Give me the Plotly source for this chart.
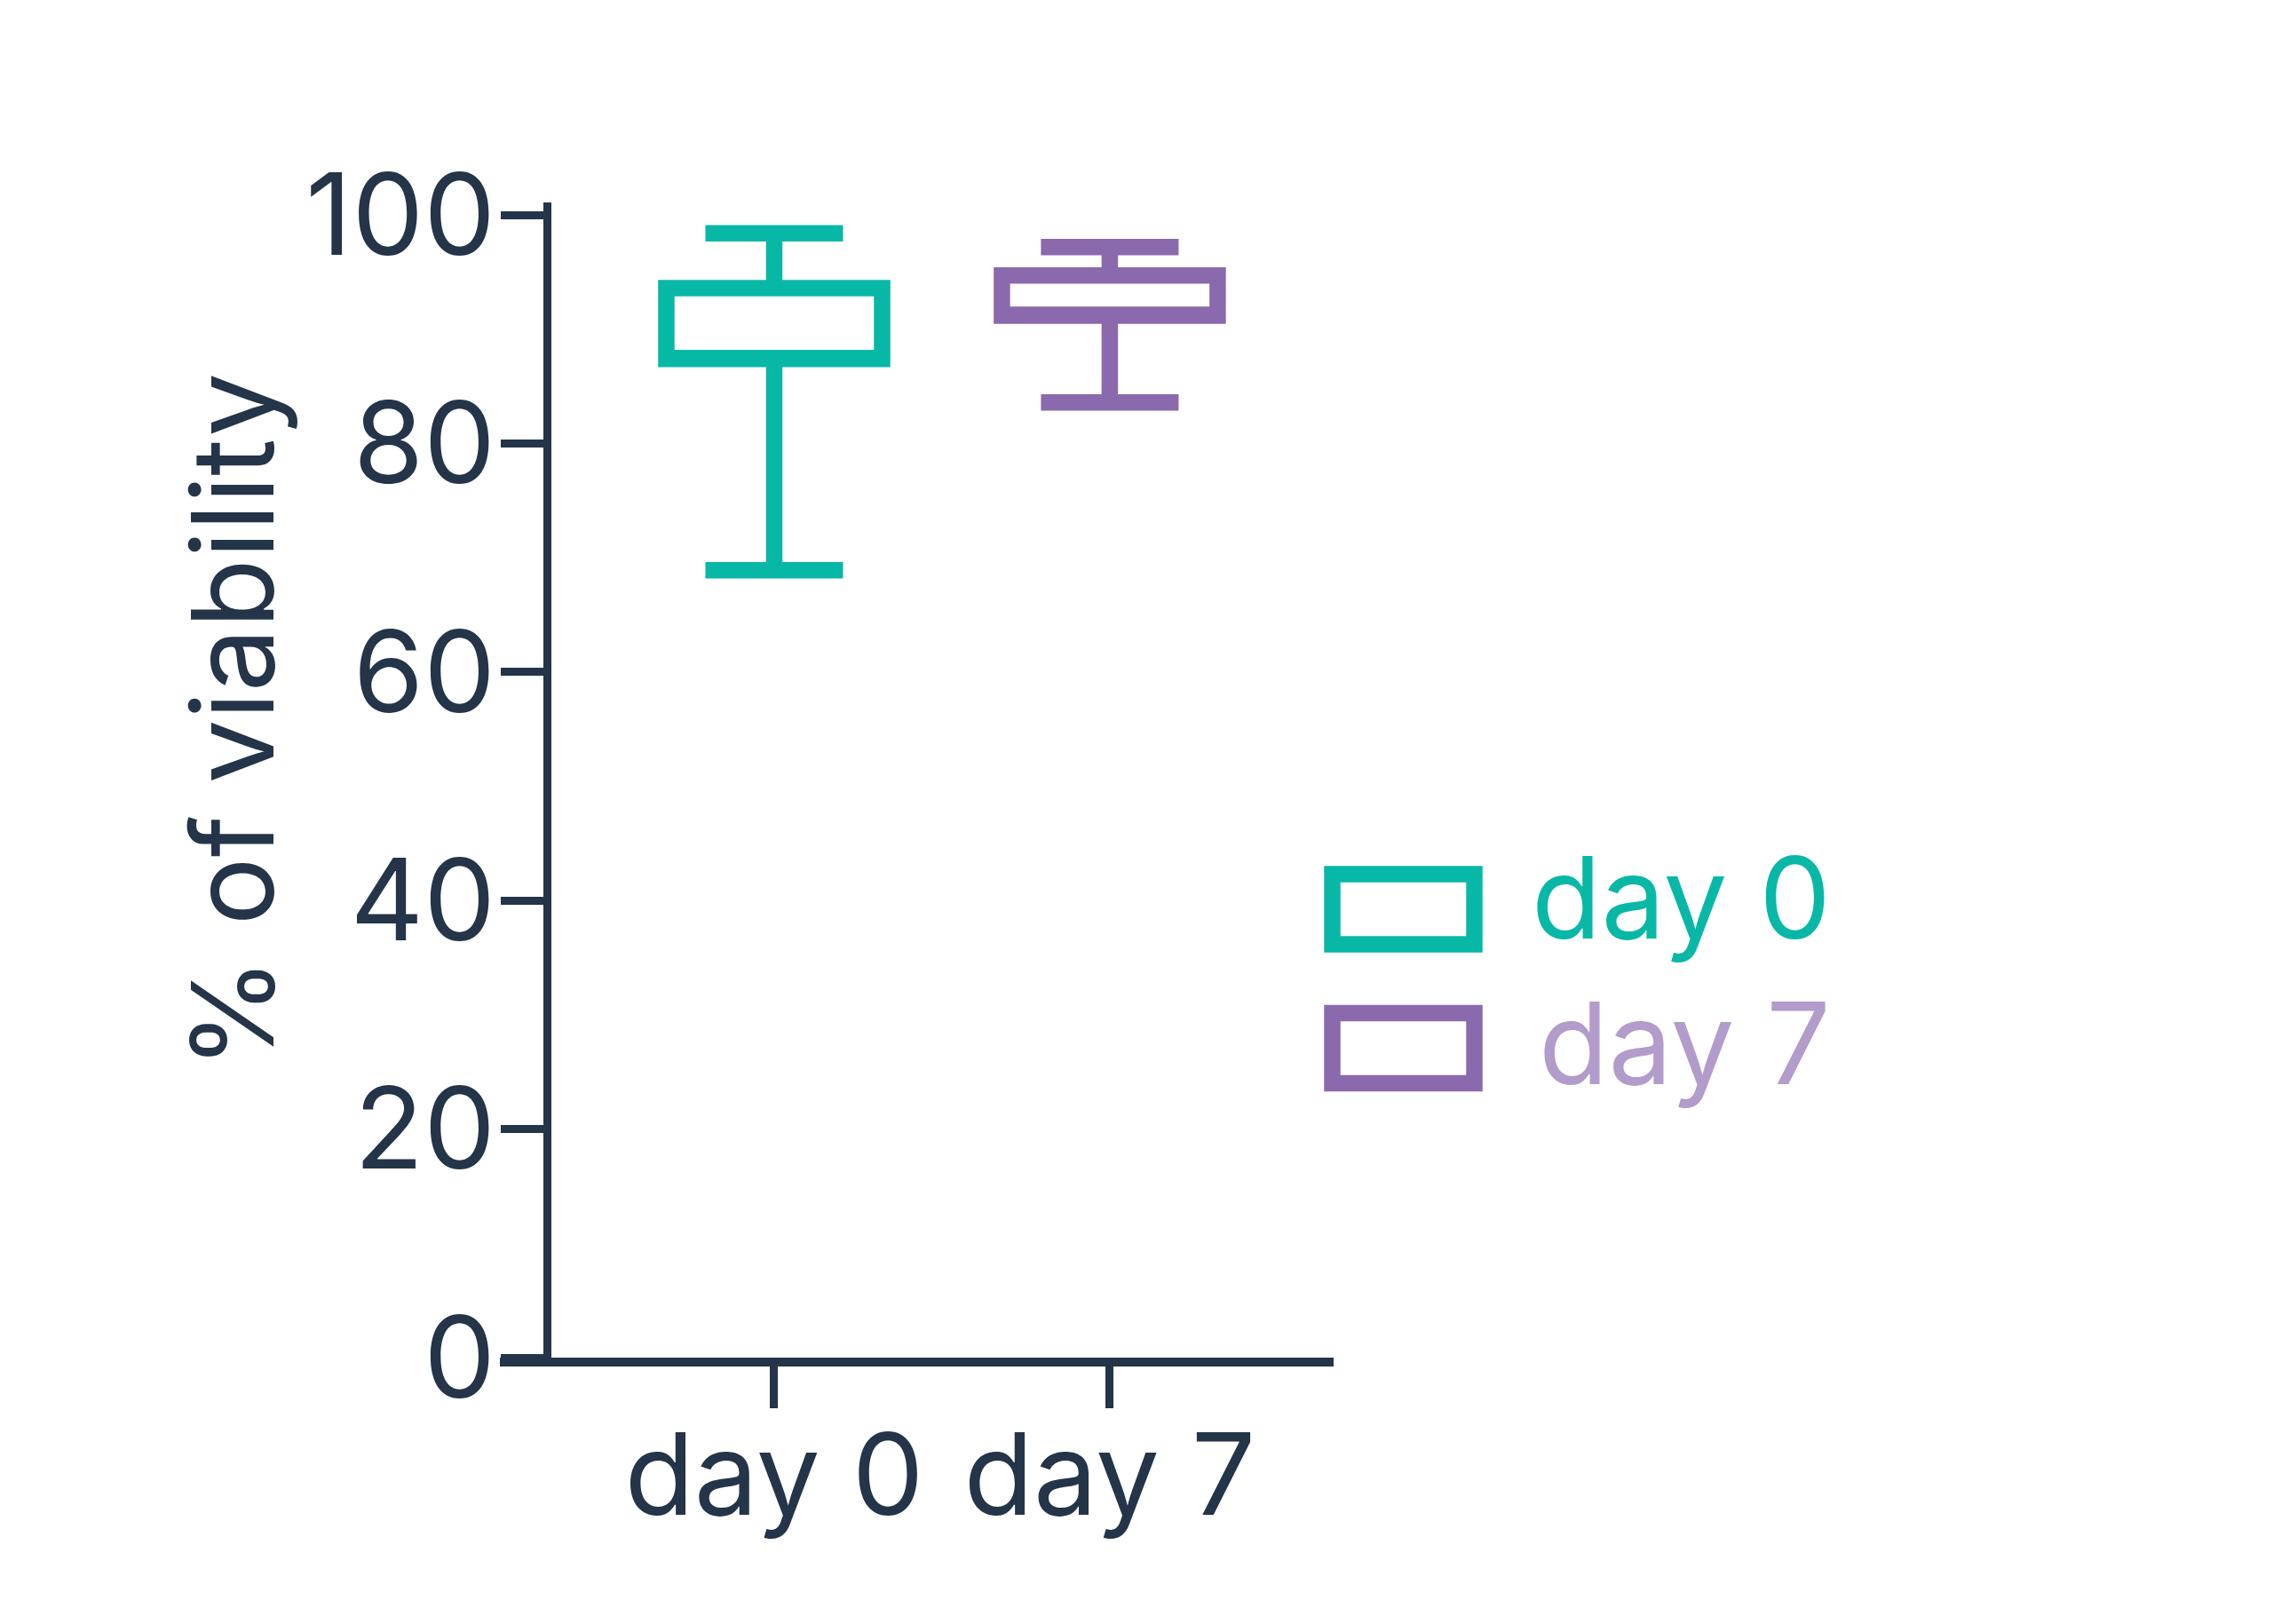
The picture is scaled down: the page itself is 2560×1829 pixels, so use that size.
import plotly.graph_objects as go

# ---- data ----
categories = ["day 0", "day 7"]
series_names = ["day 0", "day 7"]
lower_whisker = [68.9, 83.6]
q1_values = [87.4, 91.2]
median_values = [87.4, 91.2]
q3_values = [93.6, 94.7]
upper_whisker = [98.4, 97.2]
y_tick_values = [0, 20, 40, 60, 80, 100]
y_tick_labels = ["0", "20", "40", "60", "80", "100"]

box_colors = ["#08B8A7", "#8B69AD"]
legend_text_colors = ["#08B8A7", "#B29CCB"]
axis_color = "#243449"
FONT = "Inter"

W, H = 2560, 1829
OFF = 8  # page body margin


def px(x):
    return (x - OFF) / W


def py(y):
    return 1 - (y - OFF) / H


fig = go.Figure()
for i, cat in enumerate(categories):
    fig.add_trace(go.Box(
        x=[cat],
        q1=[q1_values[i]], median=[median_values[i]], q3=[q3_values[i]],
        lowerfence=[lower_whisker[i]], upperfence=[upper_whisker[i]],
        name=series_names[i],
        line=dict(color=box_colors[i], width=18.5),
        fillcolor="rgba(255,255,255,0)",
        width=0.643, whiskerwidth=0.638,
        boxpoints=False, showlegend=False, hoverinfo="skip",
    ))

# manual legend (large icons as in the reference)
leg_sym_y = [1024, 1180.5]
leg_txt_y = [1010, 1174]
for i, name in enumerate(series_names):
    yc = leg_sym_y[i]
    fig.add_shape(type="rect", xref="paper", yref="paper",
                  x0=px(1500.5), x1=px(1660.5),
                  y0=py(yc - 39.5), y1=py(yc + 39.5),
                  line=dict(color=box_colors[i], width=18.5),
                  fillcolor="rgba(0,0,0,0)")
    fig.add_annotation(xref="paper", yref="paper", x=px(2064), y=py(leg_txt_y[i]),
                       xanchor="right", yanchor="middle", showarrow=False,
                       text=name, font=dict(family=FONT, size=128, color=legend_text_colors[i]))

# y-axis title
fig.add_annotation(xref="paper", yref="paper", x=px(261), y=py(812),
                   xanchor="center", yanchor="middle", showarrow=False, textangle=-90,
                   text="% of viability", font=dict(family=FONT, size=128, color=axis_color))

fig.update_layout(
    width=W, height=H,
    margin=dict(l=0, r=0, t=0, b=0),
    paper_bgcolor="white", plot_bgcolor="white",
    showlegend=False,
    xaxis=dict(
        domain=[px(563), px(1502)],
        type="category",
        categoryorder="array", categoryarray=categories,
        range=[-0.8175, 1.667],
        showgrid=False, zeroline=False,
        showline=True, linecolor=axis_color, linewidth=10,
        ticks="outside", ticklen=47, tickwidth=9, tickcolor=axis_color,
        tickfont=dict(family=FONT, size=128, color=axis_color),
        ticklabelstandoff=-34,
        automargin=False,
    ),
    yaxis=dict(
        domain=[py(1529), py(228)],
        anchor="free", position=px(615.5),
        range=[0, 101.1],
        tickvals=y_tick_values, ticktext=y_tick_labels,
        showgrid=False, zeroline=False,
        showline=True, linecolor=axis_color, linewidth=9,
        ticks="outside", ticklen=48, tickwidth=9, tickcolor=axis_color,
        tickfont=dict(family=FONT, size=128, color=axis_color),
        ticklabelstandoff=-20,
        automargin=False,
    ),
)

fig.write_html("out.html")
